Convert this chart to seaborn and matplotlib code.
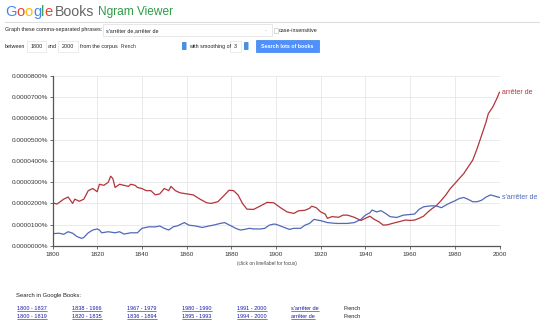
import numpy as np
import pandas as pd
import matplotlib
matplotlib.use("Agg")
import matplotlib.pyplot as plt
import seaborn as sns
from matplotlib.patches import Rectangle, FancyBboxPatch
from matplotlib.ticker import FuncFormatter

# ---- data (units: 1e-5 percent, i.e. one gridline = 0.0000100%) ----
red_years = [1800, 1802, 1805, 1807, 1809, 1810, 1812, 1814, 1815, 1816, 1818, 1820, 1821, 1823,
             1825, 1826, 1827, 1828, 1830, 1832, 1834, 1835, 1837, 1838, 1840, 1842, 1844, 1846,
             1848, 1850, 1852, 1853, 1855, 1857, 1860, 1863, 1866, 1869, 1871, 1874, 1877, 1879,
             1881, 1883, 1885, 1887, 1890, 1893, 1896, 1899, 1902, 1905, 1908, 1910, 1913, 1915,
             1916, 1918, 1920, 1922, 1923, 1925, 1928, 1930, 1932, 1935, 1938, 1940, 1942, 1944,
             1946, 1948, 1950, 1952, 1955, 1958, 1960, 1962, 1964, 1966, 1968, 1970, 1972, 1974,
             1976, 1978, 1980, 1982, 1984, 1986, 1988, 1990, 1992, 1994, 1995, 1997, 1999, 2000]
red_values = [2.03, 1.97, 2.2, 2.3, 2.0, 2.2, 2.1, 2.2, 2.4, 2.6, 2.7, 2.55, 2.9, 2.85,
              3.0, 3.28, 3.17, 2.75, 2.9, 2.85, 2.8, 2.9, 2.85, 2.75, 2.7, 2.6, 2.6, 2.4,
              2.45, 2.7, 2.6, 2.8, 2.6, 2.5, 2.45, 2.4, 2.2, 2.03, 2.0, 2.08, 2.4, 2.62,
              2.6, 2.4, 2.0, 1.73, 1.72, 1.88, 2.05, 2.03, 1.8, 1.6, 1.53, 1.65, 1.68, 1.77,
              1.87, 1.8, 1.6, 1.5, 1.3, 1.38, 1.35, 1.45, 1.45, 1.35, 1.2, 1.3, 1.4, 1.25,
              1.14, 0.98, 1.0, 1.06, 1.14, 1.22, 1.2, 1.22, 1.3, 1.4, 1.6, 1.77, 1.92, 2.15,
              2.4, 2.7, 2.93, 3.17, 3.4, 3.72, 4.03, 4.58, 5.2, 5.83, 6.22, 6.53, 6.97, 7.23]

blue_years = [1800, 1803, 1805, 1807, 1809, 1811, 1813, 1814, 1816, 1818, 1820, 1821, 1822, 1825,
              1828, 1830, 1832, 1835, 1838, 1840, 1843, 1846, 1848, 1850, 1852, 1854, 1856, 1859,
              1861, 1864, 1867, 1870, 1872, 1875, 1877, 1880, 1882, 1884, 1886, 1888, 1890, 1893,
              1895, 1897, 1899, 1900, 1903, 1906, 1908, 1911, 1913, 1915, 1917, 1920, 1923, 1927,
              1930, 1932, 1935, 1938, 1940, 1942, 1943, 1945, 1947, 1949, 1951, 1954, 1957, 1960,
              1962, 1964, 1966, 1968, 1970, 1972, 1974, 1976, 1978, 1980, 1982, 1984, 1986, 1988,
              1990, 1992, 1994, 1996, 1998, 2000]
blue_values = [0.58, 0.6, 0.55, 0.67, 0.6, 0.44, 0.36, 0.4, 0.62, 0.75, 0.8, 0.75, 0.62, 0.67,
               0.62, 0.67, 0.56, 0.62, 0.62, 0.83, 0.9, 0.9, 0.94, 0.83, 0.75, 0.9, 0.95, 1.1,
               0.98, 0.94, 0.87, 0.94, 0.98, 1.06, 1.1, 0.94, 0.83, 0.75, 0.78, 0.83, 0.8, 0.8,
               0.83, 0.98, 1.03, 1.02, 0.9, 0.78, 0.83, 0.83, 0.98, 1.06, 1.25, 1.19, 1.1, 1.06,
               1.06, 1.06, 1.1, 1.25, 1.45, 1.56, 1.69, 1.6, 1.66, 1.53, 1.38, 1.34, 1.45, 1.48,
               1.5, 1.72, 1.84, 1.87, 1.89, 1.87, 1.8, 1.92, 2.03, 2.12, 2.23, 2.28, 2.19, 2.08,
               2.08, 2.15, 2.3, 2.4, 2.34, 2.28]

series_names = ["arrêter de", "s'arrêter de"]
x_ticks = [1800, 1820, 1840, 1860, 1880, 1900, 1920, 1940, 1960, 1980, 2000]
y_ticks = [0, 1, 2, 3, 4, 5, 6, 7, 8]

link_row1 = ["1800 - 1837", "1838 - 1966", "1967 - 1979", "1980 - 1990", "1991 - 2000", "s'arrêter de", "French"]
link_row2 = ["1800 - 1819", "1820 - 1835", "1836 - 1894", "1895 - 1993", "1994 - 2000", "arrêter de", "French"]

RED = "#b3343a"
BLUE = "#5068b8"

df = pd.concat([
    pd.DataFrame({"year": red_years, "value": red_values, "phrase": series_names[0]}),
    pd.DataFrame({"year": blue_years, "value": blue_values, "phrase": series_names[1]}),
])

sns.set_style("white")
plt.rcParams["font.family"] = ["Liberation Sans", "DejaVu Sans"]

W, H = 540, 324
fig = plt.figure(figsize=(W / 100, H / 100), dpi=100)
fig.patch.set_facecolor("white")
renderer = fig.canvas.get_renderer()


def fx(x):
    return x / W


def fy(y):
    return 1 - y / H


def text_w(t):
    return t.get_window_extent(renderer=renderer).width


ax = fig.add_axes([fx(52.5), fy(246), fx(499.5) - fx(52.5), fy(75.7) - fy(246)])
sns.lineplot(data=df, x="year", y="value", hue="phrase",
             palette={series_names[0]: RED, series_names[1]: BLUE},
             linewidth=0.9, ax=ax, legend=False)
ax.set_xlim(1800, 2000)
ax.set_ylim(0, 8)
ax.set_xticks(x_ticks)
ax.set_yticks(y_ticks)
ax.yaxis.set_major_formatter(FuncFormatter(lambda v, p: f"{v * 1e-5:.7f}%"))
ax.grid(True, color="#e6e6e6", linewidth=0.6)
ax.set_axisbelow(True)
ax.set_xlabel("")
ax.set_ylabel("")
for s in ["top", "right"]:
    ax.spines[s].set_visible(False)
ax.spines["left"].set_color("#555555")
ax.spines["bottom"].set_color("#555555")
ax.spines["left"].set_linewidth(0.9)
ax.spines["bottom"].set_linewidth(0.9)
ax.tick_params(axis="y", length=2.5, width=0.6, color="#555555", labelsize=4.6,
               labelcolor="#333333", pad=0.8, left=True)
ax.tick_params(axis="x", length=2, width=0.6, color="#555555", labelsize=4.6,
               labelcolor="#333333", pad=2, bottom=True)

# line end labels
ax.text(2001, red_values[-1], series_names[0], color=RED, fontsize=5, va="center", ha="left",
        clip_on=False)
ax.text(2001, blue_values[-1], series_names[1], color=BLUE, fontsize=5, va="center", ha="left",
        clip_on=False)

# ---- header ----
logo_letters = [("G", "#4285f4"), ("o", "#ea4335"), ("o", "#fbbc05"), ("g", "#4285f4"),
                ("l", "#34a853"), ("e", "#ea4335")]
xpos = 5.0
for ch, col in logo_letters:
    t = fig.text(fx(xpos), fy(12), ch, color=col, fontsize=10.6, va="center", ha="left")
    xpos += text_w(t)
fig.text(fx(xpos + 2.5), fy(12), "Books", color="#666666", fontsize=10.2, va="center", ha="left")
fig.text(fx(98), fy(12.5), "Ngram Viewer", color="#2f9b46", fontsize=8.6, va="center", ha="left")
fig.add_artist(plt.Line2D([fx(5), fx(540)], [fy(21.5), fy(21.5)], color="#dddddd", linewidth=0.8))

small = 3.9
fig.text(fx(5), fy(30), "Graph these comma-separated phrases:", fontsize=small, va="center", color="#222222")
fig.add_artist(Rectangle((fx(103), fy(36)), fx(272) - fx(103), fy(24) - fy(36),
                         facecolor="white", edgecolor="#dddddd", linewidth=0.5))
fig.text(fx(106), fy(30.5), "s'arrêter de,arrêter de", fontsize=small, va="center", color="#222222")
fig.text(fx(265), fy(30.5), "-", fontsize=small, va="center", color="#aaaaaa")
fig.add_artist(Rectangle((fx(274), fy(33)), fx(4), fy(28) - fy(33),
                         facecolor="white", edgecolor="#bbbbbb", linewidth=0.4))
fig.text(fx(279), fy(30.5), "case-insensitive", fontsize=small, va="center", color="#222222")

fig.text(fx(5), fy(46.5), "between", fontsize=small, va="center", color="#222222")
for x0, x1, t in [(27, 46, "1800"), (58, 78, "2000"), (230, 241, "3")]:
    fig.add_artist(Rectangle((fx(x0), fy(52)), fx(x1) - fx(x0), fy(41) - fy(52),
                             facecolor="white", edgecolor="#e3e3e3", linewidth=0.5))
    fig.text(fx((x0 + x1) / 2), fy(46.5), t, fontsize=small, va="center", ha="center", color="#222222")
fig.text(fx(48), fy(46.5), "and", fontsize=small, va="center", color="#222222")
fig.text(fx(80), fy(46.5), "from the corpus", fontsize=small, va="center", color="#222222")
fig.text(fx(121), fy(46.5), "French", fontsize=3.6, va="center", color="#333333")
for xi in [182, 244]:
    fig.add_artist(FancyBboxPatch((fx(xi), fy(50)), fx(4.5), fy(42) - fy(50),
                                  boxstyle="round,pad=0,rounding_size=0.002",
                                  facecolor="#4a8fe0", edgecolor="none"))
fig.text(fx(189), fy(46.5), "with smoothing of", fontsize=small, va="center", color="#222222")
fig.add_artist(Rectangle((fx(256), fy(52)), fx(319) - fx(256), fy(40.5) - fy(52),
                         facecolor="#4d90fe", edgecolor="#3f7fe6", linewidth=0.5))
fig.text(fx(287.5), fy(46.3), "Search lots of books", fontsize=3.8, va="center", ha="center",
         color="white", fontweight="bold")

# ---- footer ----
fig.text(fx(267), fy(263.5), "(click on line/label for focus)", fontsize=3.4, va="center",
         ha="center", color="#444444")
fig.text(fx(16), fy(295), "Search in Google Books:", fontsize=4.2, va="center", color="#222222")
col_x = [17, 72, 127, 182, 237, 291, 343]
for row_y, labels in [(308.5, link_row1), (316.5, link_row2)]:
    for i, (cx, lab) in enumerate(zip(col_x, labels)):
        is_link = i < 6
        col = "#1a1aa6" if is_link else "#222222"
        t = fig.text(fx(cx), fy(row_y), lab, fontsize=4.0, va="center", ha="left", color=col)
        if is_link:
            wpx = text_w(t)
            fig.add_artist(plt.Line2D([fx(cx), fx(cx + wpx)], [fy(row_y + 2.6), fy(row_y + 2.6)],
                                      color=col, linewidth=0.4))

fig.savefig("out.png", dpi=100, facecolor="white")
